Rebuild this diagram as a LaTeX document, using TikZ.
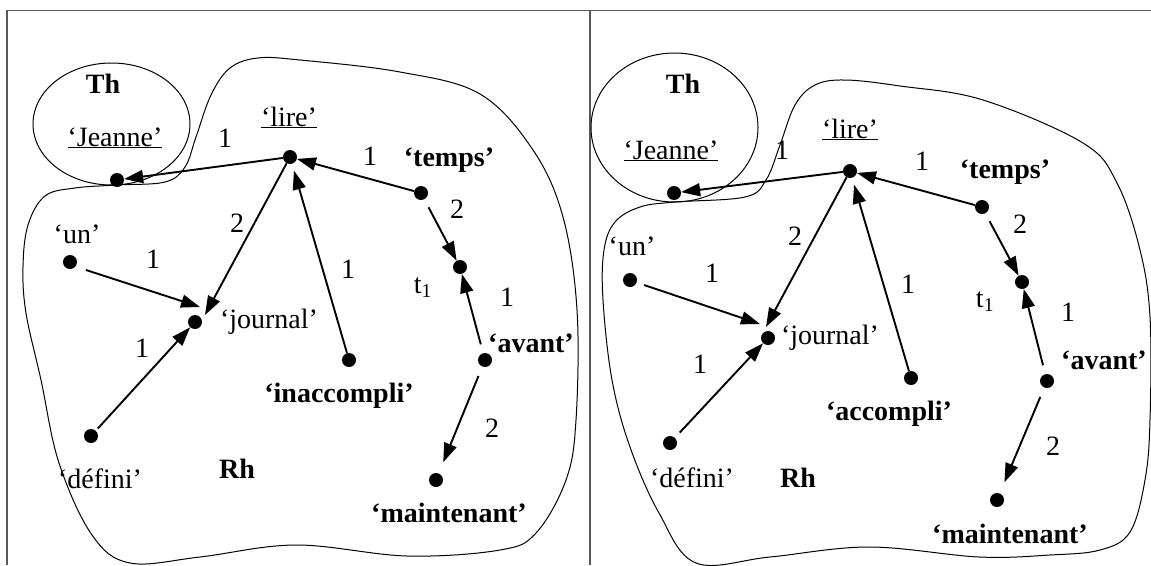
\documentclass[tikz,border=0pt]{standalone}
\usepackage{fontspec}
\setmainfont{Liberation Serif}
\usetikzlibrary{arrows.meta,calc}
\tikzset{
  frameline/.style={draw=black!65, line width=1.5pt},
  region/.style={draw=black, line width=1pt},
  dot/.style={circle, fill=black, inner sep=0pt, minimum size=14pt},
  arr/.style={-{Triangle[length=19pt,width=13pt]}, line width=1.9pt},
  lbl/.style={inner sep=0pt, anchor=base, font=\fontsize{28}{30}\selectfont},
  blbl/.style={lbl, font=\fontsize{28}{30}\selectfont\bfseries},
}
\begin{document}
\begin{tikzpicture}[x=1pt, y=-1pt]
\useasboundingbox (0,0) rectangle (1151,565);

% table rules
\draw[frameline] (7,565) -- (7,10.5) -- (1151,10.5);
\draw[frameline] (590,10.5) -- (590,565);

% ===================== left panel =====================
\draw[region] (111.5,124) ellipse [x radius=78.5, y radius=61];
\draw[region] plot[smooth cycle, tension=0.6] coordinates {
  (117,185) (165,182) (185,167) (196,137) (211,95) (230,68) (258,58)
  (300,60) (400,72) (480,94) (533,150) (563,217) (577,310) (576,420)
  (566,480) (536,533) (500,550) (407,556) (296,545) (200,557) (130,563)
  (92,535) (59,463) (41,380) (26,313) (23,267) (28,225) (45,196) (75,188)};

\node[blbl] (LTh) at (103,93) {Th};
\node[lbl] (LJeanneT) at (115,146) {\underline{‘Jeanne’}};
\node[lbl] (LlireT) at (289,126) {\underline{‘lire’}};
\node[blbl] (LtempsT) at (449,166) {‘temps’};
\node[lbl] (Lt1T) at (423,293) {t\textsubscript{1}};
\node[blbl] (LavantT) at (531,352) {‘avant’};
\node[blbl] (LinaccT) at (339,402) {‘inaccompli’};
\node[lbl] (LunT) at (77,243) {‘un’};
\node[lbl] (LjournalT) at (269,328) {‘journal’};
\node[lbl] (LdefiniT) at (100,488) {‘défini’};
\node[blbl] (LRh) at (237,478) {Rh};
\node[blbl] (LmaintT) at (449,522) {‘maintenant’};

\node[dot] (Ljeanne) at (117,180) {};
\node[dot] (Llire) at (290,157) {};
\node[dot] (Ltemps) at (421,193) {};
\node[dot] (Lt1) at (460,267) {};
\node[dot] (Lavant) at (485,360) {};
\node[dot] (Linacc) at (349,360) {};
\node[dot] (Ljournal) at (195,322) {};
\node[dot] (Lun) at (70,262) {};
\node[dot] (Ldefini) at (91,436) {};
\node[dot] (Lmaint) at (436,480) {};

\draw[arr] (Llire) -- (Ljeanne);
\draw[arr] (Llire) -- ($(Ljournal)+(10,-7)$);
\draw[arr] ($(Lun)+(16,8)$) -- ($(Ljournal)+(5,-15)$);
\draw[arr, shorten <=3pt] (Ldefini) -- (Ljournal);
\draw[arr, shorten >=7pt] (Linacc) -- (Llire);
\draw[arr] (Ltemps) -- (Llire);
\draw[arr, shorten <=9pt] (Ltemps) -- (Lt1);
\draw[arr, shorten <=9pt] (Lavant) -- (Lt1);
\draw[arr, shorten <=10pt, shorten >=12pt] (Lavant) -- (Lmaint);

\node[lbl] (Le1) at (225,147) {1};
\node[lbl] (Le2) at (370,165) {1};
\node[lbl] (Le3) at (457,218) {2};
\node[lbl] (Le4) at (507,306) {1};
\node[lbl] (Le5) at (348,278) {1};
\node[lbl] (Le6) at (237,232) {2};
\node[lbl] (Le7) at (153,268) {1};
\node[lbl] (Le8) at (142,357) {1};
\node[lbl] (Le9) at (492,437) {2};

% ===================== right panel =====================
\draw[region] (674.5,127.5) ellipse [x radius=83.5, y radius=74.5];
\draw[region] plot[smooth cycle, tension=0.6] coordinates {
  (675,202) (745,197) (766,180) (780,145) (795,105) (815,85) (845,80)
  (900,86) (983,100) (1083,143) (1117,183) (1140,250) (1150,317)
  (1150,420) (1145,480) (1130,532) (1100,550) (1050,555) (979,557)
  (869,547) (770,557) (696,563) (659,513) (630,447) (612,380) (603,300)
  (604,250) (615,222) (640,207)};

\node[blbl] (RTh) at (683,93) {Th};
\node[lbl] (RJeanneT) at (671,159) {\underline{‘Jeanne’}};
\node[lbl] (RlireT) at (850,138) {\underline{‘lire’}};
\node[blbl] (RtempsT) at (1005,178) {‘temps’};
\node[lbl] (Rt1T) at (985,307) {t\textsubscript{1}};
\node[blbl] (RavantT) at (1104,369) {‘avant’};
\node[blbl] (RaccT) at (889,420) {‘accompli’};
\node[lbl] (RunT) at (632,255) {‘un’};
\node[lbl] (RjournalT) at (830,344) {‘journal’};
\node[lbl] (RdefiniT) at (692,487) {‘défini’};
\node[blbl] (RRh) at (798,487) {Rh};
\node[blbl] (RmaintT) at (1010,543) {‘maintenant’};

\node[dot] (Rjeanne) at (674,193) {};
\node[dot] (Rlire) at (850,171) {};
\node[dot] (Rtemps) at (982,207) {};
\node[dot] (Rt1) at (1022,282) {};
\node[dot] (Ravant) at (1047,381) {};
\node[dot] (Racc) at (911,378) {};
\node[dot] (Rjournal) at (768,338) {};
\node[dot] (Run) at (630,280) {};
\node[dot] (Rdefini) at (670,443) {};
\node[dot] (Rmaint) at (997,500) {};

\draw[arr] (Rlire) -- ($(Rjournal)+(-2,-11)$);
\draw[arr] (Rlire) -- (Rjeanne);
\draw[arr] ($(Run)+(14,5)$) -- ($(Rjournal)+(-8,-14)$);
\draw[arr, shorten <=7pt] (Rdefini) -- (Rjournal);
\draw[arr, shorten >=7pt] (Racc) -- (Rlire);
\draw[arr] (Rtemps) -- (Rlire);
\draw[arr, shorten <=9pt] (Rtemps) -- (Rt1);
\draw[arr, shorten <=9pt] (Ravant) -- (Rt1);
\draw[arr, shorten <=10pt, shorten >=12pt] (Ravant) -- (Rmaint);

\node[lbl] (Re1) at (782,159) {1};
\node[lbl] (Re2) at (922,170) {1};
\node[lbl] (Re3) at (1020,233) {2};
\node[lbl] (Re4) at (1068,321) {1};
\node[lbl] (Re5) at (908,293) {1};
\node[lbl] (Re6) at (795,245) {2};
\node[lbl] (Re7) at (712,282) {1};
\node[lbl] (Re8) at (700,373) {1};
\node[lbl] (Re9) at (1053,455) {2};
\end{tikzpicture}
\end{document}
